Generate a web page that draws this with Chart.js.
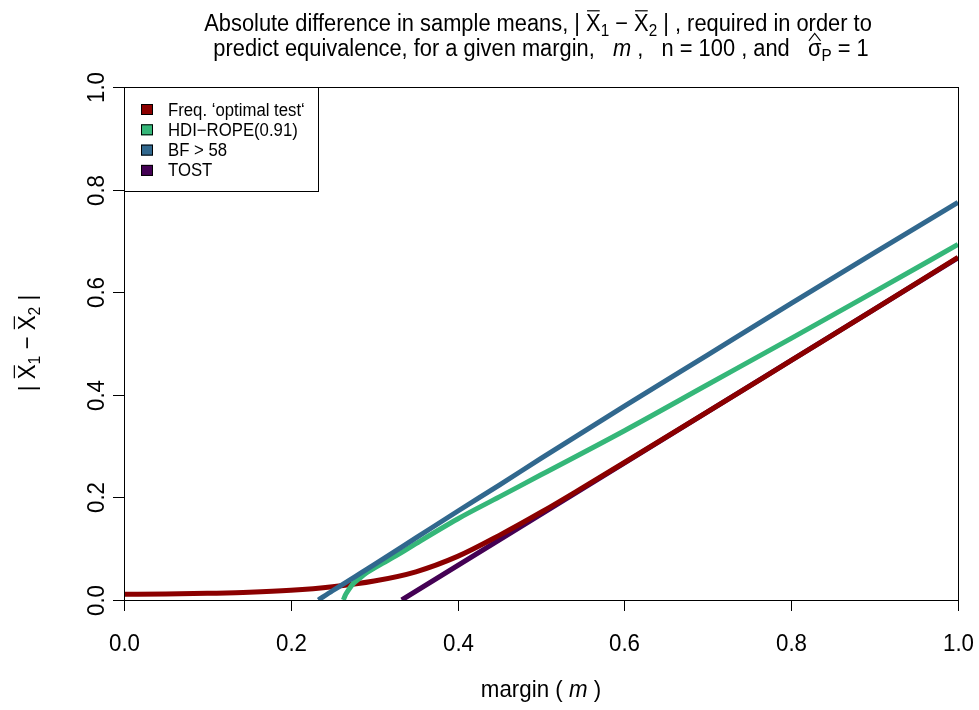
<!DOCTYPE html>
<html>
<head>
    <title>Equivalence margin chart</title>
    <script src="https://cdn.jsdelivr.net/npm/chart.js@4.4.1/dist/chart.umd.min.js"></script>
    <style>
        body { margin: 0; background: #fff; }
    </style>
</head>
<body>

<canvas id="myChart" width="979" height="710"></canvas>

<script>
    // values
    var seriesNames = ["Freq. \u2018optimal test\u2018", "HDI\u2212ROPE(0.91)", "BF > 58", "TOST"];
    var seriesColors = ["#8B0000", "#35B779", "#31688E", "#440154"];

    var mFreq = [0, 0.05, 0.1, 0.15, 0.2, 0.25, 0.3, 0.35, 0.4, 0.45, 0.5, 0.55, 0.6, 0.7, 0.8, 0.9, 1.0];
    var yFreq = [0.011, 0.0115, 0.013, 0.015, 0.019, 0.026, 0.037, 0.055, 0.085, 0.126, 0.171, 0.219, 0.268, 0.367, 0.467, 0.567, 0.668];

    var mHdi = [0.263, 0.265, 0.267, 0.271, 0.275, 0.283, 0.291, 0.3, 0.315, 0.33, 0.35, 0.4, 0.45, 0.5, 0.6, 0.7, 0.8, 0.9, 1.0];
    var yHdi = [0, 0.008, 0.014, 0.024, 0.032, 0.043, 0.053, 0.062, 0.076, 0.09, 0.11, 0.158, 0.201, 0.244, 0.33, 0.42, 0.51, 0.601, 0.693];

    var mBf = [0.233, 0.25, 0.3, 0.35, 0.4, 0.45, 0.5, 0.6, 0.7, 0.8, 0.9, 1.0];
    var yBf = [0, 0.018, 0.069, 0.121, 0.173, 0.224, 0.276, 0.378, 0.478, 0.578, 0.677, 0.775];

    var mTost = [0.333, 1.0];
    var yTost = [0, 0.667];

    var xTickStep = 0.2;
    var yTickStep = 0.2;

    var FONT = '"Liberation Sans", Arial, Helvetica, sans-serif';
    var SX = 0.93;   // the reference text is a bit narrower than Arial

    function pts(ms, ys) {
        return ms.map(function (m, i) { return { x: m, y: ys[i] }; });
    }

    // plotmath-like text: parts with italic / subscript / overbar / hat
    function partFont(p, size) {
        var s = p.sub ? size * 0.7 : size;
        return (p.it ? 'italic ' : '') + s + 'px ' + FONT;
    }
    function richWidth(ctx, parts, size) {
        var w = 0;
        parts.forEach(function (p) {
            ctx.font = partFont(p, size);
            w += ctx.measureText(p.t).width;
        });
        return w;
    }
    function drawRich(ctx, parts, x0, y, size, align) {
        var total = richWidth(ctx, parts, size);
        var x = align === 'left' ? 0 : -total / 2;
        ctx.save();
        ctx.translate(x0, y);
        ctx.scale(SX, 1);
        ctx.textAlign = 'left';
        ctx.textBaseline = 'alphabetic';
        ctx.lineWidth = 1.2;
        parts.forEach(function (p) {
            ctx.font = partFont(p, size);
            var w = ctx.measureText(p.t).width;
            ctx.fillText(p.t, x, p.sub ? size * 0.22 : 0);
            if (p.bar) {
                ctx.beginPath();
                ctx.moveTo(x + 1, -size * 0.86);
                ctx.lineTo(x + w - 1, -size * 0.86);
                ctx.stroke();
            }
            if (p.hat) {
                ctx.beginPath();
                ctx.moveTo(x + 1, -size * 0.64);
                ctx.lineTo(x + w / 2, -size * 0.96);
                ctx.lineTo(x + w - 1, -size * 0.64);
                ctx.stroke();
            }
            x += w;
        });
        ctx.restore();
    }

    var diffLabel = [
        { t: '| ' }, { t: 'X', bar: true }, { t: '1', sub: true }, { t: ' \u2212 ' },
        { t: 'X', bar: true }, { t: '2', sub: true }, { t: ' |' }
    ];

    var decor = {
        id: 'decor',
        afterDatasetsDraw: function (chart) {
            var ctx = chart.ctx, a = chart.chartArea;
            var xs = chart.scales.x, ys = chart.scales.y;
            ctx.save();
            ctx.fillStyle = '#000';
            ctx.strokeStyle = '#000';
            ctx.lineWidth = 1;

            // plot box
            ctx.strokeRect(a.left + 0.5, a.top + 0.5, a.right - a.left, a.bottom - a.top);

            // x axis ticks + labels
            xs.ticks.forEach(function (t) {
                var px = Math.round(xs.getPixelForValue(t.value)) + 0.5;
                ctx.beginPath();
                ctx.moveTo(px, a.bottom);
                ctx.lineTo(px, a.bottom + 11);
                ctx.stroke();
                drawRich(ctx, [{ t: t.value.toFixed(1) }], px, 651, 24);
            });

            // y axis ticks + rotated labels
            ys.ticks.forEach(function (t) {
                var py = Math.round(ys.getPixelForValue(t.value)) + 0.5;
                ctx.beginPath();
                ctx.moveTo(a.left - 11, py);
                ctx.lineTo(a.left, py);
                ctx.stroke();
                ctx.save();
                ctx.translate(104, py);
                ctx.rotate(-Math.PI / 2);
                drawRich(ctx, [{ t: t.value.toFixed(1) }], 0, 0, 24);
                ctx.restore();
            });

            // title
            drawRich(ctx, [
                { t: 'Absolute difference in sample means, | ' }, { t: 'X', bar: true }, { t: '1', sub: true },
                { t: ' \u2212 ' }, { t: 'X', bar: true }, { t: '2', sub: true },
                { t: ' | , required in order to' }
            ], 538, 31, 23.5);
            drawRich(ctx, [
                { t: 'predict equivalence, for a given margin,   ' }, { t: 'm', it: true },
                { t: ' ,   n = 100 , and   ' }, { t: '\u03c3', hat: true }, { t: 'P', sub: true }, { t: ' = 1' }
            ], 541, 56, 23.5);

            // axis titles
            drawRich(ctx, [{ t: 'margin ( ' }, { t: 'm', it: true }, { t: ' )' }], 541, 697, 24);
            ctx.save();
            ctx.translate(35, 343);
            ctx.rotate(-Math.PI / 2);
            drawRich(ctx, diffLabel, 0, 0, 24);
            ctx.restore();

            // legend
            var lx = a.left, ly = a.top;
            ctx.fillStyle = '#fff';
            ctx.fillRect(lx + 1, ly + 1, 194, 103);
            ctx.strokeRect(lx + 0.5, ly + 0.5, 194, 104);
            seriesNames.forEach(function (name, i) {
                var cy = ly + 22 + i * 20.3;
                ctx.fillStyle = seriesColors[i];
                ctx.fillRect(lx + 17, cy - 5, 12, 11);
                ctx.strokeRect(lx + 17.5, cy - 4.5, 11, 10);
                ctx.fillStyle = '#000';
                drawRich(ctx, [{ t: name }], lx + 44, cy + 6.5, 18, 'left');
            });
            ctx.restore();
        }
    };

    var ctx = document.getElementById('myChart').getContext('2d');
    var myChart = new Chart(ctx, {
        type: 'line',
        data: {
            datasets: [
                { label: seriesNames[0], data: pts(mFreq, yFreq), borderColor: seriesColors[0], order: 3 },
                { label: seriesNames[1], data: pts(mHdi, yHdi), borderColor: seriesColors[1], order: 2 },
                { label: seriesNames[2], data: pts(mBf, yBf), borderColor: seriesColors[2], order: 1 },
                { label: seriesNames[3], data: pts(mTost, yTost), borderColor: seriesColors[3], order: 4 }
            ]
        },
        options: {
            responsive: false,
            animation: false,
            layout: { padding: { left: 124, right: 21, top: 87, bottom: 110 } },
            elements: {
                line: { borderWidth: 5, cubicInterpolationMode: 'monotone', fill: false, borderCapStyle: 'butt' },
                point: { radius: 0, hoverRadius: 0 }
            },
            plugins: { legend: { display: false }, title: { display: false }, tooltip: { enabled: false } },
            scales: {
                x: { type: 'linear', min: 0, max: 1, display: false, ticks: { stepSize: xTickStep } },
                y: { type: 'linear', min: 0, max: 1, display: false, ticks: { stepSize: yTickStep } }
            }
        },
        plugins: [decor]
    });
</script>
</body>
</html>
